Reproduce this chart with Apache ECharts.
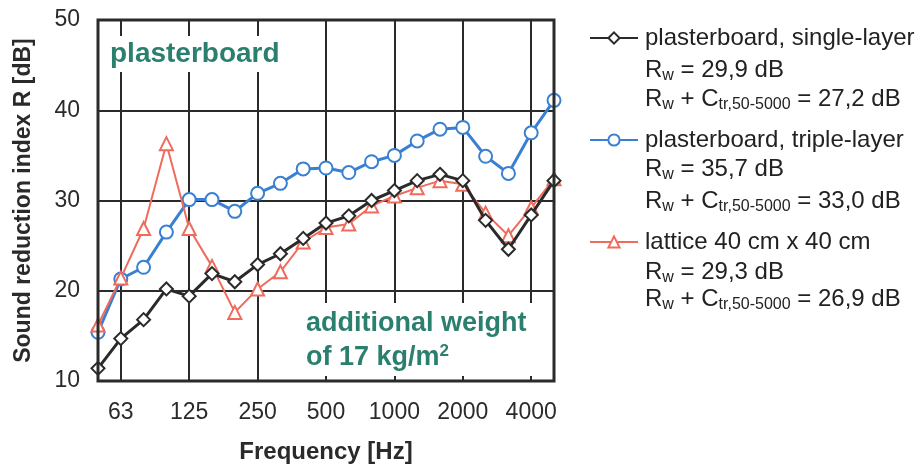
<!DOCTYPE html>
<html><head><meta charset="utf-8">
<script src="https://cdn.jsdelivr.net/npm/echarts@6/dist/echarts.min.js"></script>
<style>html,body{margin:0;padding:0;background:#fff}#c{width:923px;height:469px}</style>
</head><body><div id="c"></div>
<script>
const frequencies = ['50','63','80','100','125','160','200','250','315','400','500','630','800','1000','1250','1600','2000','2500','3150','4000','5000'];
const shownTicks = ['63','125','250','500','1000','2000','4000'];
const singleLayer = [11.4,14.7,16.8,20.2,19.4,21.9,21.0,22.9,24.1,25.8,27.5,28.3,30.0,31.1,32.2,32.9,32.2,27.8,24.6,28.4,32.2];
const tripleLayer = [15.4,21.3,22.6,26.5,30.1,30.1,28.8,30.8,31.9,33.5,33.6,33.1,34.3,35.0,36.6,37.9,38.1,34.9,33.0,37.5,41.1];
const lattice = [16.2,21.4,26.9,36.3,26.9,22.7,17.6,20.2,22.1,25.4,27.0,27.4,29.4,30.5,31.4,32.2,31.8,28.6,26.1,29.2,32.4];
const seriesNames = ['plasterboard, single-layer','plasterboard, triple-layer','lattice 40 cm x 40 cm'];
const rwValues = ['29,9','35,7','29,3'];
const rwCtrValues = ['27,2','33,0','26,9'];

const FONT = '"Liberation Sans", Arial, Helvetica, sans-serif';
const cBlack = '#2a2a2a', cBlue = '#3a80d2', cRed = '#ef6b5b', cTeal = '#2b7f6e';
const chart = echarts.init(document.getElementById('c'), null, {renderer:'canvas'});
const showIdx = (i, v) => shownTicks.indexOf(frequencies[i]) >= 0;

const legendTops = [[58, 87], [157, 189], [260, 287]];
const graphics = [];
for (let k = 0; k < 3; k++) {
  graphics.push({type:'text', left:645, top:legendTops[k][0], style:{
    text:'R{sub|w} = ' + rwValues[k] + ' dB', font:'24px ' + FONT, fill:'#222',
    rich:{sub:{fontSize:16, fontFamily:FONT, fill:'#222', padding:[12,0,0,0]}}}});
  graphics.push({type:'text', left:645, top:legendTops[k][1], style:{
    text:'R{sub|w} + C{sub|tr,50-5000} = ' + rwCtrValues[k] + ' dB', font:'24px ' + FONT, fill:'#222',
    rich:{sub:{fontSize:16, fontFamily:FONT, fill:'#222', padding:[12,0,0,0]}}}});
}
graphics.push({type:'text', left:104, top:36, z:5, style:{
  text:'plasterboard', font:'bold 28px ' + FONT, fill:cTeal, backgroundColor:'#fff', padding:[4,6,4,6]}});
graphics.push({type:'text', left:300, top:303, z:5, style:{
  text:'additional weight\nof 17 kg/m{sup|2}', font:'bold 27px ' + FONT, fill:cTeal, lineHeight:34,
  backgroundColor:'#fff', padding:[4,6,1,6],
  rich:{sup:{fontSize:17, fontWeight:'bold', fontFamily:FONT, fill:cTeal, padding:[0,0,14,0]}}}});

function mk(name, data, color, symbol, size, width, z) {
  return {name, type:'line', data, z, symbol, symbolSize:size, showSymbol:true,
    lineStyle:{color, width}, itemStyle:{color:'#fff', borderColor:color, borderWidth:2},
    emphasis:{disabled:true}, animation:false};
}

chart.setOption({
  animation:false,
  grid:{left:98, right:369, top:20, bottom:86, show:true, borderColor:cBlack, borderWidth:3, backgroundColor:'transparent', z:6},
  xAxis:{type:'category', data:frequencies, boundaryGap:false,
    axisLine:{show:false}, axisTick:{show:false},
    axisLabel:{interval:showIdx, margin:20, fontSize:23, color:'#2a2a2a', fontFamily:FONT},
    splitLine:{show:true, interval:showIdx, lineStyle:{color:'#2a2a2a', width:2}},
    name:'Frequency [Hz]', nameLocation:'middle', nameGap:59,
    nameTextStyle:{fontSize:24, fontWeight:'bold', color:'#2a2a2a', fontFamily:FONT}},
  yAxis:{type:'value', min:10, max:50, interval:10,
    axisLine:{show:false}, axisTick:{show:false},
    axisLabel:{margin:18, fontSize:23, color:'#2a2a2a', fontFamily:FONT},
    splitLine:{show:true, lineStyle:{color:'#2a2a2a', width:2}},
    name:'Sound reduction index R [dB]', nameLocation:'middle', nameRotate:90, nameGap:63,
    nameTextStyle:{fontSize:23, fontWeight:'bold', color:'#2a2a2a', fontFamily:FONT}},
  legend:{orient:'vertical', left:584, top:19, itemWidth:48, itemHeight:14, itemGap:74,
    data:seriesNames, selectedMode:false,
    textStyle:{fontSize:24, color:'#222', fontFamily:FONT, lineHeight:28, padding:[0,0,0,2]}},
  graphic:graphics,
  series:[
    mk(seriesNames[1], tripleLayer, cBlue, 'circle', 13, 3, 3),
    mk(seriesNames[2], lattice, cRed, 'triangle', 13, 2, 4),
    mk(seriesNames[0], singleLayer, cBlack, 'diamond', 13, 3, 5)
  ]
});
</script></body></html>
